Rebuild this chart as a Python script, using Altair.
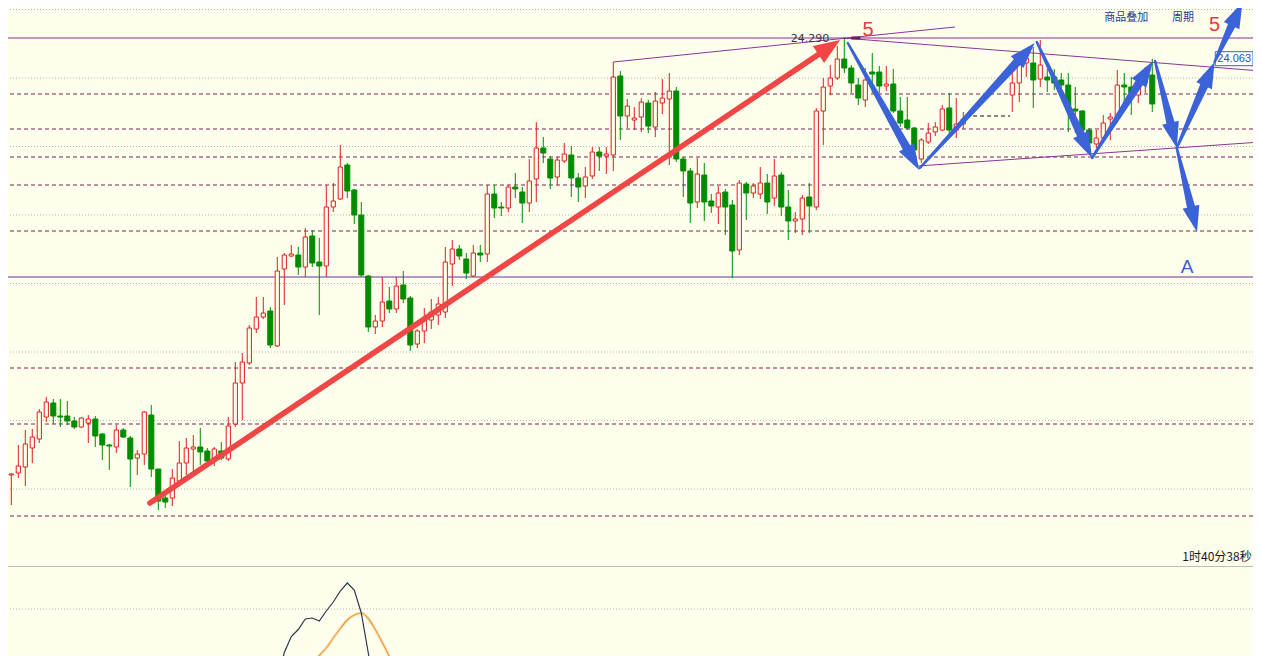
import math
import altair as alt
import pandas as pd

BG = "#FFFFEE"
UP = "#E01E1E"
DN = "#008C00"
BLUE = "#3C62D8"
RED_ARROW = "#F04646"

# ---------------- candles (index, open, close, high, low) ----------------
candle_idx = list(range(0, 138)) + list(range(144, 165))
candle_open = [
    19.85, 19.92, 19.94, 20.00, 20.19, 20.28, 20.50, 20.64, 20.51, 20.51,
    20.46, 20.40, 20.44, 20.48, 20.33, 20.22, 20.20, 20.37, 20.29, 20.09,
    20.13, 20.52, 19.98, 19.69, 19.69, 19.86, 20.04, 20.18, 20.20, 20.16,
    20.08, 20.16, 20.08, 20.43, 20.84, 21.04, 21.38, 21.50, 21.56, 21.21,
    21.98, 22.11, 22.12, 22.00, 22.31, 22.05, 22.01, 22.60, 22.68, 23.02,
    22.77, 22.52, 21.91, 21.40, 21.46, 21.66, 21.58, 21.82, 21.69, 21.23,
    21.36, 21.47, 21.52, 21.55, 22.03, 22.18, 22.08, 21.91, 22.14, 22.13,
    22.73, 22.60, 22.59, 22.80, 22.75, 22.64, 22.88, 23.19, 23.08, 22.90,
    23.06, 23.12, 22.89, 22.81, 22.91, 23.15, 23.11, 23.12, 23.91, 23.51,
    23.47, 23.50, 23.64, 23.40, 23.64, 23.68, 23.76, 23.08, 22.96, 22.65,
    22.92, 22.66, 22.60, 22.75, 22.62, 22.17, 22.83, 22.74, 22.73, 22.84,
    22.69, 22.92, 22.60, 22.46, 22.48, 22.70, 22.60, 23.56, 23.81, 23.89,
    24.08, 23.99, 23.82, 23.67, 23.95, 23.95, 23.81, 23.83, 23.56, 23.47,
    23.39, 23.08, 23.25, 23.35, 23.37, 23.59, 23.37, 23.43,
    23.72, 23.84, 24.04, 24.04, 23.88, 23.90, 23.90, 23.87, 23.82, 23.58, 23.56,
    23.37, 23.23, 23.29, 23.48, 23.50, 23.82, 23.80, 23.72, 23.84, 23.92,
]
candle_close = [
    19.94, 19.93, 20.01, 20.23, 20.30, 20.55, 20.65, 20.51, 20.50, 20.46,
    20.40, 20.49, 20.48, 20.31, 20.22, 20.21, 20.37, 20.30, 20.08, 20.13,
    20.55, 19.98, 19.66, 19.65, 19.89, 20.04, 20.19, 20.20, 20.15, 20.06,
    20.18, 20.09, 20.41, 20.84, 21.05, 21.39, 21.50, 21.54, 21.22, 21.96,
    22.12, 22.13, 22.00, 22.30, 22.04, 22.01, 22.60, 22.66, 23.00, 22.76,
    22.52, 21.92, 21.40, 21.46, 21.65, 21.58, 21.81, 21.68, 21.22, 21.36,
    21.47, 21.55, 21.63, 22.05, 22.18, 22.11, 21.94, 22.14, 22.12, 22.73,
    22.59, 22.59, 22.80, 22.78, 22.64, 22.86, 23.19, 23.14, 22.89, 23.07,
    23.13, 22.89, 22.80, 22.90, 23.15, 23.11, 23.13, 23.90, 23.51, 23.61,
    23.49, 23.65, 23.41, 23.66, 23.69, 23.76, 23.08, 22.96, 22.64, 22.93,
    22.65, 22.61, 22.74, 22.60, 22.16, 22.84, 22.74, 22.81, 22.84, 22.65,
    22.91, 22.60, 22.46, 22.48, 22.69, 22.61, 23.56, 23.80, 23.89, 24.08,
    23.99, 23.84, 23.69, 23.87, 23.93, 23.81, 23.83, 23.56, 23.44, 23.39,
    23.17, 23.27, 23.34, 23.40, 23.58, 23.37, 23.43, 23.48,
    23.84, 24.04, 24.09, 23.87, 24.02, 23.87, 23.84, 23.82, 23.57, 23.56, 23.37,
    23.24, 23.29, 23.44, 23.50, 23.82, 23.80, 23.74, 23.82, 23.90, 23.63,
]
candle_high = [
    19.97, 19.94, 20.22, 20.37, 20.38, 20.58, 20.70, 20.68, 20.68, 20.66,
    20.50, 20.50, 20.52, 20.51, 20.34, 20.23, 20.42, 20.39, 20.31, 20.17,
    20.56, 20.62, 19.98, 19.74, 19.98, 20.26, 20.29, 20.32, 20.39, 20.19,
    20.20, 20.25, 20.50, 21.05, 21.14, 21.42, 21.70, 21.70, 21.60, 22.10,
    22.14, 22.22, 22.20, 22.39, 22.37, 22.29, 22.82, 22.84, 23.22, 23.04,
    22.78, 22.65, 21.92, 21.52, 21.90, 21.80, 21.90, 21.96, 21.71, 21.38,
    21.59, 21.68, 21.70, 22.20, 22.27, 22.22, 22.14, 22.22, 22.22, 22.82,
    22.82, 22.65, 22.82, 22.94, 22.80, 23.08, 23.45, 23.30, 23.11, 23.10,
    23.24, 23.21, 22.94, 23.00, 23.20, 23.20, 23.20, 24.05, 23.96, 23.68,
    23.60, 23.69, 23.67, 23.75, 23.88, 23.94, 23.80, 23.10, 22.99, 23.09,
    23.04, 22.73, 22.81, 22.78, 22.67, 22.87, 22.85, 22.84, 23.00, 22.93,
    23.08, 22.95, 22.77, 22.55, 22.72, 22.84, 23.59, 23.89, 24.02, 24.21,
    24.29, 24.02, 23.89, 23.99, 24.14, 24.01, 24.01, 23.98, 23.70, 23.70,
    23.40, 23.29, 23.44, 23.45, 23.62, 23.74, 23.69, 23.55,
    23.94, 24.10, 24.19, 24.20, 24.27, 23.98, 23.98, 23.94, 23.94, 23.80, 23.57,
    23.39, 23.37, 23.52, 23.54, 23.97, 23.94, 23.90, 23.90, 24.00, 24.08,
]
candle_low = [
    19.77, 19.62, 19.89, 19.81, 20.04, 20.24, 20.45, 20.43, 20.40, 20.42,
    20.38, 20.39, 20.24, 20.20, 20.07, 19.97, 20.14, 20.29, 19.80, 19.92,
    20.02, 19.90, 19.57, 19.59, 19.61, 19.86, 19.92, 19.96, 20.02, 20.04,
    20.01, 20.07, 20.06, 20.40, 20.47, 21.02, 21.34, 21.48, 21.19, 21.20,
    21.62, 22.10, 21.92, 21.90, 22.00, 21.52, 21.90, 22.55, 22.67, 22.69,
    22.43, 21.90, 21.35, 21.33, 21.40, 21.54, 21.54, 21.64, 21.16, 21.19,
    21.24, 21.38, 21.42, 21.49, 21.81, 22.07, 21.88, 21.90, 22.05, 22.05,
    22.49, 22.51, 22.55, 22.69, 22.44, 22.55, 22.65, 23.04, 22.78, 22.82,
    23.04, 22.70, 22.65, 22.69, 22.88, 22.96, 22.93, 22.96, 23.27, 23.39,
    23.37, 23.35, 23.34, 23.30, 23.53, 23.02, 23.05, 22.70, 22.44, 22.59,
    22.46, 22.54, 22.43, 22.32, 21.89, 22.12, 22.47, 22.69, 22.68, 22.53,
    22.61, 22.51, 22.27, 22.34, 22.32, 22.34, 22.57, 23.22, 23.72, 23.87,
    23.94, 23.74, 23.62, 23.60, 23.74, 23.74, 23.76, 23.54, 23.40, 23.37,
    23.09, 23.04, 23.23, 23.31, 23.36, 23.33, 23.29, 23.38,
    23.55, 23.65, 23.90, 23.59, 23.80, 23.75, 23.77, 23.72, 23.35, 23.34, 23.22,
    23.15, 23.19, 23.27, 23.27, 23.44, 23.57, 23.52, 23.64, 23.74, 23.55,
]

# ---------------- horizontal reference lines ----------------
dashed_levels = [23.73, 23.38, 23.10, 22.82, 22.36, 20.99, 20.43, 19.51]
dotted_levels = [24.575, 23.89, 23.205, 22.52, 21.835, 21.15, 20.465, 19.78]
solid_top_level = [24.29]
solid_low_level = [21.90]

# thin purple trend lines (x0, p0, x1, p1)
trend_x0 = [87.0, 119.8, 130.5]
trend_p0 = [24.05, 24.29, 23.01]
trend_x1 = [135.8, 179.5, 179.5]
trend_p1 = [24.40, 23.96, 23.25]

# arrows: start -> tip
arrow_x0 = [20.8, 120.5, 130.8, 147.5, 155.4, 164.4, 167.5, 167.5, 172.9]
arrow_p0 = [19.64, 24.24, 22.99, 24.25, 23.09, 24.06, 23.19, 23.19, 24.05]
arrow_x1 = [119.4, 130.7, 147.2, 155.4, 164.1, 167.5, 170.4, 172.9, 176.9]
arrow_p1 = [24.27, 22.97, 24.24, 23.09, 24.06, 23.19, 22.35, 24.05, 24.65]
arrow_kind = ["red", "blue", "blue", "blue", "blue", "blue", "blue", "blue", "blue"]

# header links
header_text = ["商品叠加", "周期"]
header_x = [160.3, 168.4]

# indicator panel
ind_dark_idx = list(range(39, 54))
ind_dark_val = [-1.42, -0.87, -0.55, -0.41, -0.20, -0.18, -0.24, -0.04, 0.14,
                0.36, 0.52, 0.38, -0.08, -0.88, -1.62]
ind_orange_idx = list(range(42, 57))
ind_orange_val = [-1.50, -1.30, -1.11, -0.93, -0.78, -0.58, -0.39, -0.22, -0.12,
                  -0.08, -0.19, -0.41, -0.67, -0.95, -1.28]

# ---------------- scales ----------------
W, H_MAIN, H_IND = 1245, 558, 90
X_DOM = [0.529, 178.39]
Y_DOM = [19.01, 24.59]
I_DOM = [-0.94, 0.86]
xs = alt.Scale(domain=X_DOM, nice=False, zero=False)
ys = alt.Scale(domain=Y_DOM, nice=False, zero=False)
iscale = alt.Scale(domain=I_DOM, nice=False, zero=False)
PX_X = W / (X_DOM[1] - X_DOM[0])
PX_Y = H_MAIN / (Y_DOM[1] - Y_DOM[0])


def X(f="x"):
    return alt.X(f"{f}:Q", scale=xs, axis=None)


def Y(f="p"):
    return alt.Y(f"{f}:Q", scale=ys, axis=None)


cd = pd.DataFrame({"x": candle_idx, "o": candle_open, "c": candle_close,
                   "h": candle_high, "l": candle_low})
cd["up"] = cd["c"] > cd["o"]
cd["col"] = cd["up"].map({True: UP, False: DN})
up_df = cd[cd["up"]].copy()
dn_df = cd[~cd["up"]].copy()
up_df["xa"] = up_df["x"] - 0.3
up_df["xb"] = up_df["x"] + 0.3
dn_df["xa"] = dn_df["x"] - 0.36
dn_df["xb"] = dn_df["x"] + 0.36


def hlines(levels, color, width=1, dash=None):
    kw = dict(color=color, strokeWidth=width, clip=True)
    if dash is not None:
        kw["strokeDash"] = dash
    return alt.Chart(pd.DataFrame({"p": levels})).mark_rule(**kw).encode(y=Y())


def label(xv, pv, txt, color, size, align="center", font="DejaVu Sans", weight="normal"):
    return alt.Chart(pd.DataFrame({"x": [xv], "p": [pv], "t": [txt]})).mark_text(
        color=color, fontSize=size, align=align, baseline="middle", font=font,
        fontWeight=weight, clip=True).encode(x=X(), y=Y(), text="t:N")


layers = [
    hlines(dotted_levels, "#B4B4B4", 1, [1, 2]),
    hlines(dashed_levels, "#7A2255", 1, [4, 3]),
    hlines(solid_top_level, "#8E2A8E", 1),
    hlines(solid_low_level, "#6A2C9C", 1),
]

tr = pd.DataFrame({"x": trend_x0, "p": trend_p0, "x2": trend_x1, "p2": trend_p1})
layers.append(alt.Chart(tr).mark_rule(color="#8A3496", strokeWidth=1, clip=True).encode(
    x=X(), y=Y(), x2="x2:Q", y2="p2:Q"))

# short black dashed marker and thick segment near top
layers.append(alt.Chart(pd.DataFrame({"x": [137.4], "x2": [143.7], "p": [23.51]})).mark_rule(
    color="#111111", strokeDash=[4, 3], strokeWidth=1, clip=True).encode(x=X(), x2="x2:Q", y=Y()))
layers.append(alt.Chart(pd.DataFrame({"x": [121.0], "x2": [122.3], "p": [24.29]})).mark_rule(
    color="#6E1A66", strokeWidth=3, clip=True).encode(x=X(), x2="x2:Q", y=Y()))

# wicks and bodies
layers.append(alt.Chart(cd).mark_rule(strokeWidth=1, clip=True).encode(
    x=X(), y=Y("l"), y2="h:Q", color=alt.Color("col:N", scale=None)))
layers.append(alt.Chart(dn_df).mark_rect(fill=DN, stroke=DN, strokeWidth=1, clip=True).encode(
    x=X("xa"), x2="xb:Q", y=Y("o"), y2="c:Q"))
layers.append(alt.Chart(up_df).mark_rect(fill=BG, stroke=UP, strokeWidth=1, clip=True).encode(
    x=X("xa"), x2="xb:Q", y=Y("o"), y2="c:Q"))

# price box at the right edge (under the arrows)
box = pd.DataFrame({"x": [173.0], "x2": [178.39], "p": [24.013], "p2": [24.153]})
layers.append(alt.Chart(box).mark_rect(fill="#FFFFFF", stroke="#3A62C0", strokeWidth=1, clip=True).encode(
    x=X(), x2="x2:Q", y=Y(), y2="p2:Q"))
layers.append(label(173.3, 24.083, "24.063", "#2452B8", 11, align="left", font="Liberation Sans"))

# arrows
shaft_rows, head_rows = [], []
for k, (x0, p0, x1, p1, kind) in enumerate(zip(arrow_x0, arrow_p0, arrow_x1, arrow_p1, arrow_kind)):
    dxs = (x1 - x0) * PX_X
    dys = -(p1 - p0) * PX_Y
    L = math.hypot(dxs, dys)
    ux, uy = dxs / L, dys / L
    if kind == "red":
        hl, w0, w1, col = 26.0, 5.5, 5.5, RED_ARROW
    else:
        hl, w0, w1, col = 26.0, 2.5, 9.0, BLUE
    back = hl * 0.7
    xe = x1 - ux * back / PX_X
    pe = p1 + uy * back / PX_Y
    shaft_rows.append({"x": x0, "p": p0, "w": w0, "g": f"a{k}", "o": 0, "col": col})
    shaft_rows.append({"x": xe, "p": pe, "w": w1, "g": f"a{k}", "o": 1, "col": col})
    xc = x1 - ux * (hl / 2) / PX_X
    pc = p1 + uy * (hl / 2) / PX_Y
    ang = math.degrees(math.atan2(ux, -uy)) % 360
    head_rows.append({"x": xc, "p": pc, "ang": ang, "kind": kind, "col": col})

sh = pd.DataFrame(shaft_rows)
hd = pd.DataFrame(head_rows)
layers.append(alt.Chart(sh).mark_trail(clip=True).encode(
    x=X(), y=Y(), size=alt.Size("w:Q", scale=None), detail="g:N",
    order=alt.Order("o:Q"), color=alt.Color("col:N", scale=None)))
blue_path = "M0,-1L0.66,1L-0.66,1Z"
red_path = "M0,-1L0.78,1L-0.78,1Z"
layers.append(alt.Chart(hd[hd["kind"] == "blue"]).mark_point(
    shape=blue_path, filled=True, size=26 * 26, opacity=1, fill=BLUE, stroke=None, clip=True).encode(
    x=X(), y=Y(), angle=alt.Angle("ang:Q", scale=None)))
layers.append(alt.Chart(hd[hd["kind"] == "red"]).mark_point(
    shape=red_path, filled=True, size=26 * 26, opacity=1, fill=RED_ARROW, stroke=None, clip=True).encode(
    x=X(), y=Y(), angle=alt.Angle("ang:Q", scale=None)))

# texts
layers.append(label(115.1, 24.285, "24.290", "#333344", 11))
layers.append(label(123.4, 24.37, "5", "#E83A3A", 20, font="Liberation Sans"))
layers.append(label(172.9, 24.425, "5", "#E83A3A", 20, font="Liberation Sans"))
layers.append(label(168.98, 22.00, "A", "#3A5FC8", 19, font="Liberation Sans"))
layers.append(label(178.2, 19.10, "1时40分38秒", "#1A1A1A", 12, align="right",
                    font="Noto Sans CJK SC"))
hdr = pd.DataFrame({"x": header_x, "p": [24.49] * 2, "t": header_text})
layers.append(alt.Chart(hdr).mark_text(color="#1C3A8C", fontSize=11, align="center",
                                       baseline="middle", font="Noto Sans CJK SC",
                                       clip=True).encode(x=X(), y=Y(), text="t:N"))

main = alt.layer(*layers).properties(width=W, height=H_MAIN)

# ---------------- indicator panel ----------------
ind_layers = [
    alt.Chart(pd.DataFrame({"v": [0.0, -1.0]})).mark_rule(
        color="#B4B4B4", strokeDash=[1, 2], strokeWidth=1, clip=True).encode(
        y=alt.Y("v:Q", scale=iscale, axis=None)),
    alt.Chart(pd.DataFrame({"v": [I_DOM[1]]})).mark_rule(
        color="#A8A8A8", strokeWidth=1.5, clip=True).encode(y=alt.Y("v:Q", scale=iscale, axis=None)),
]
od = pd.DataFrame({"x": ind_orange_idx, "v": ind_orange_val})
dd = pd.DataFrame({"x": ind_dark_idx, "v": ind_dark_val})
ind_layers.append(alt.Chart(od).mark_line(color="#F5B060", strokeWidth=3.5, opacity=0.3,
                                          interpolate="monotone", clip=True).encode(
    x=X(), y=alt.Y("v:Q", scale=iscale, axis=None)))
ind_layers.append(alt.Chart(od).mark_line(color="#EE9A30", strokeWidth=1.2,
                                          interpolate="monotone", clip=True).encode(
    x=X(), y=alt.Y("v:Q", scale=iscale, axis=None)))
ind_layers.append(alt.Chart(dd).mark_line(color="#2B3A4E", strokeWidth=1.2, clip=True).encode(
    x=X(), y=alt.Y("v:Q", scale=iscale, axis=None)))
ind = alt.layer(*ind_layers).properties(width=W, height=H_IND)

chart = alt.vconcat(main, ind, spacing=0).properties(
    padding=0, background=BG
).configure_view(stroke=None)

chart.save("out.html", embed_options={"renderer": "svg", "actions": False})
